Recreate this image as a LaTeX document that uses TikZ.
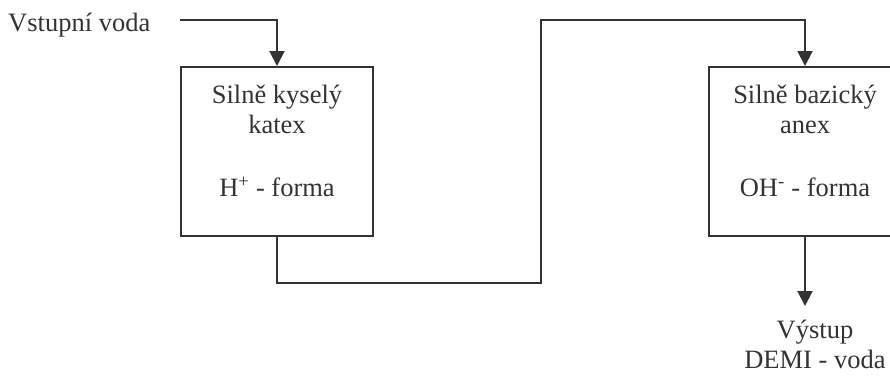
\documentclass[tikz,border=0pt]{standalone}
\usepackage{fontspec}
\setmainfont{Liberation Serif}
\usetikzlibrary{arrows.meta,positioning}
\definecolor{cara}{HTML}{333333}
\tikzset{
    nadrz/.style  = {draw=cara, line width=2pt, minimum width=192pt, minimum height=169pt, inner sep=0pt},
    popis/.style  = {text=cara, align=center, inner sep=0pt, font=\fontsize{26.5}{30}\selectfont},
    tok/.style    = {draw=cara, line width=2pt, -{Triangle[length=15pt,width=15pt]}},
}
\begin{document}
\begin{tikzpicture}[x=1pt, y=-1pt]
                \useasboundingbox (0,0) rectangle (890,376);
                % kolony
                \node [nadrz] (katex) at (277,151.5) {};
                \node [nadrz] (anex)  at (805,151.5) {};
                \node [popis, below=19pt of katex.north] (katexText)
                    {Silně kyselý\\katex\\[33pt]H\textsuperscript{+} - forma};
                \node [popis, below=19pt of anex.north]  (anexText)
                    {Silně bazický\\anex\\[33pt]OH\textsuperscript{-} - forma};
                % vstup
                \node [popis, anchor=base west] (vstup) at (8,31) {Vstupní voda};
                \coordinate (start) at (180,20);
                \draw [tok] (start) -| (katex.north);
                % propojeni
                \coordinate (dole)   at (541,283);
                \coordinate (nahore) at (541,20);
                \draw [tok] (katex.south) |- (dole) -- (nahore) -| (anex.north);
                % vystup
                \coordinate (konec) at (805,306);
                \draw [tok] (anex.south) -- (konec);
                \node [popis, anchor=north] (vystup) at (815,320) {Výstup\\DEMI - voda};
\end{tikzpicture}
\end{document}
